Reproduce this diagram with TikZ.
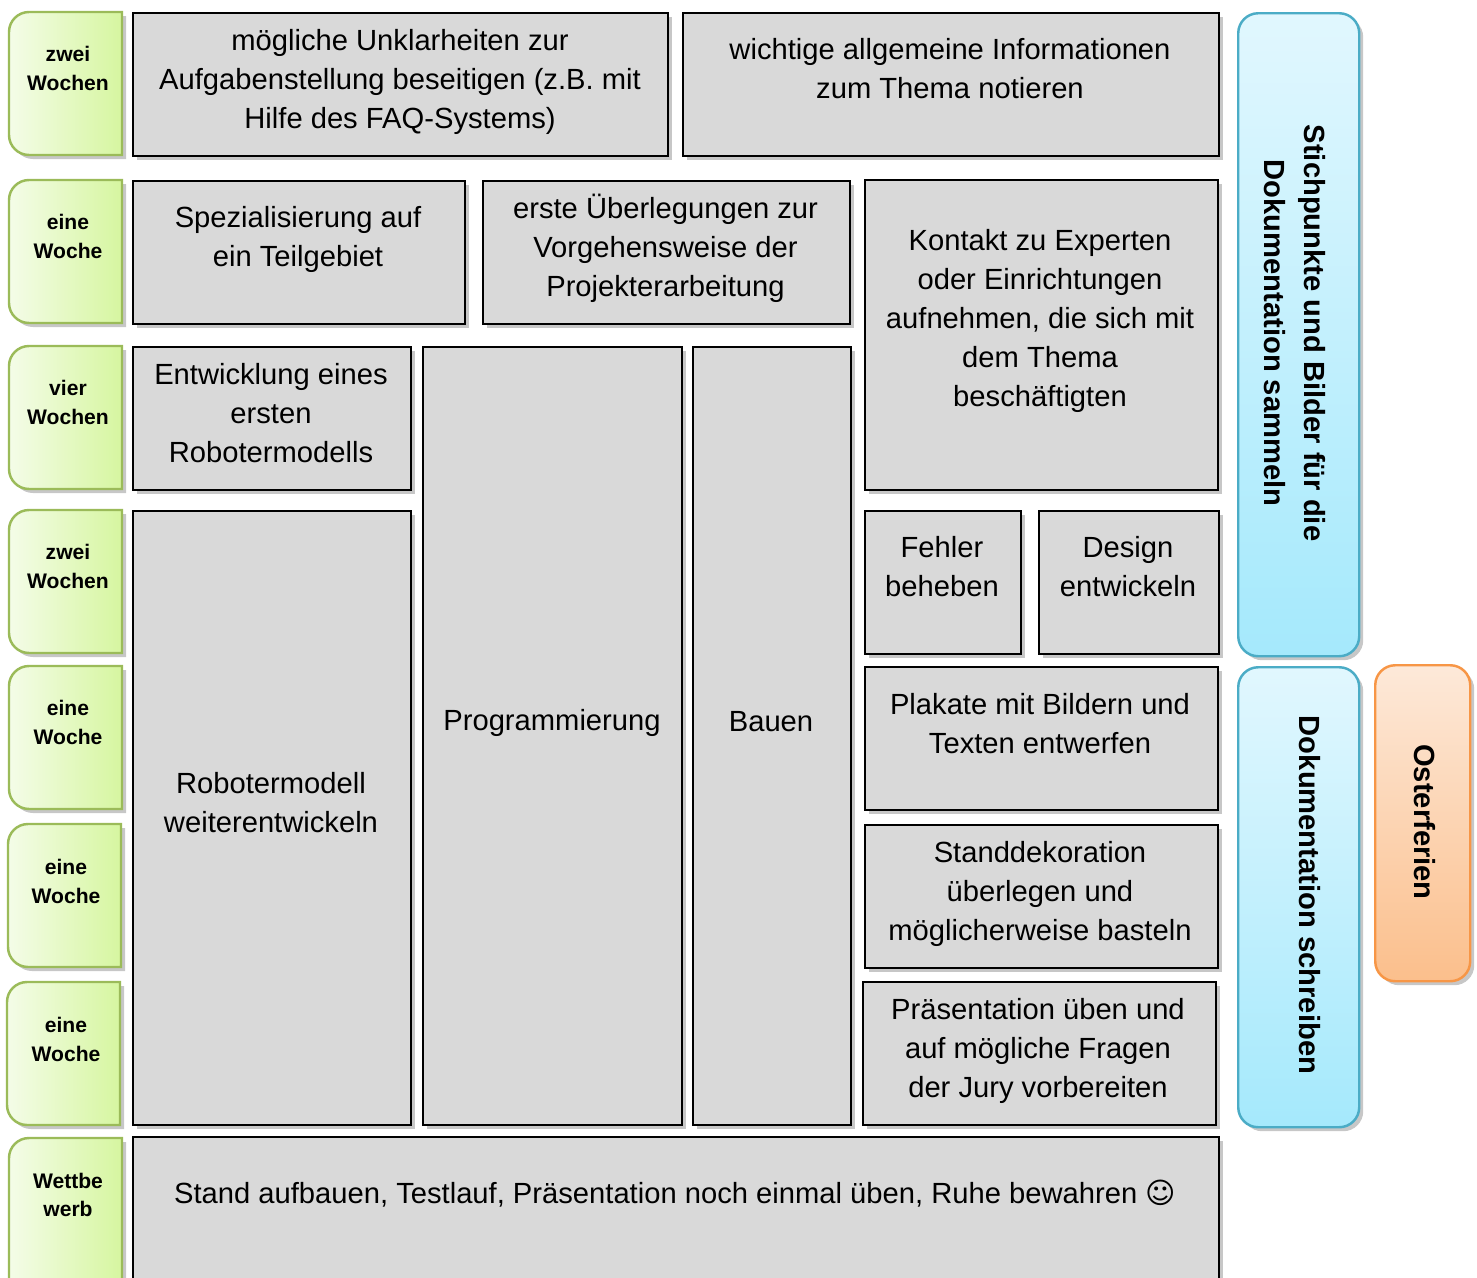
\documentclass[tikz,border=0pt]{standalone}
\usepackage{fontspec}
\setmainfont{Liberation Sans}
\newfontfamily\smileyfont{DejaVu Sans}
\usetikzlibrary{shadows}
\definecolor{boxgrey}{HTML}{D9D9D9}
\definecolor{tableft}{HTML}{F4FCE8}
\definecolor{tabright}{HTML}{D6F6A0}
\definecolor{tabline}{HTML}{9BBB59}
\definecolor{bluetop}{HTML}{E1F7FE}
\definecolor{bluebottom}{HTML}{A5E9FC}
\definecolor{blueline}{HTML}{4BACC6}
\definecolor{orangetop}{HTML}{FDE9D9}
\definecolor{orangebottom}{HTML}{FBBF8C}
\definecolor{orangeline}{HTML}{F79646}
\tikzset{
    softshadow/.style={
        drop shadow={shadow xshift=0.4mm, shadow yshift=-0.4mm, fill=black, opacity=0.22}
    },
    box/.style={
        draw,
        line width=0.7pt,
        fill=boxgrey,
        anchor=north west,
        inner sep=0pt,
        softshadow
    },
    boxtext/.style={
        align=center,
        font=\fontsize{8.3}{11.1}\selectfont
    },
    tab/.style={
        draw=tabline,
        line width=0.7pt,
        left color=tableft,
        right color=tabright,
        softshadow
    },
    tabtext/.style={
        align=center,
        font=\fontsize{6}{8.2}\selectfont\bfseries
    },
    bar/.style={
        rounded corners=2mm,
        line width=0.7pt,
        anchor=north west,
        inner sep=0pt,
        softshadow
    },
    bartext/.style={
        rotate=-90,
        align=center,
        font=\fontsize{8.3}{11.4}\selectfont\bfseries
    }
}
\begin{document}
\begin{tikzpicture}
\clip (0,0) rectangle (14.77,-12.78);

\draw[tab] (1.22,-0.12) -- (0.29,-0.12) arc[start angle=90,end angle=180,radius=0.2] -- (0.09,-1.35) arc[start angle=180,end angle=270,radius=0.2] -- (1.22,-1.55) -- cycle;
\draw[tab] (1.22,-1.80) -- (0.29,-1.80) arc[start angle=90,end angle=180,radius=0.2] -- (0.09,-3.03) arc[start angle=180,end angle=270,radius=0.2] -- (1.22,-3.23) -- cycle;
\draw[tab] (1.22,-3.46) -- (0.29,-3.46) arc[start angle=90,end angle=180,radius=0.2] -- (0.09,-4.69) arc[start angle=180,end angle=270,radius=0.2] -- (1.22,-4.89) -- cycle;
\draw[tab] (1.22,-5.10) -- (0.29,-5.10) arc[start angle=90,end angle=180,radius=0.2] -- (0.09,-6.33) arc[start angle=180,end angle=270,radius=0.2] -- (1.22,-6.53) -- cycle;
\draw[tab] (1.22,-6.66) -- (0.29,-6.66) arc[start angle=90,end angle=180,radius=0.2] -- (0.09,-7.89) arc[start angle=180,end angle=270,radius=0.2] -- (1.22,-8.09) -- cycle;
\draw[tab] (1.21,-8.24) -- (0.28,-8.24) arc[start angle=90,end angle=180,radius=0.2] -- (0.08,-9.47) arc[start angle=180,end angle=270,radius=0.2] -- (1.21,-9.67) -- cycle;
\draw[tab] (1.20,-9.82) -- (0.27,-9.82) arc[start angle=90,end angle=180,radius=0.2] -- (0.07,-11.05) arc[start angle=180,end angle=270,radius=0.2] -- (1.20,-11.25) -- cycle;
\draw[tab] (1.22,-11.38) -- (0.29,-11.38) arc[start angle=90,end angle=180,radius=0.2] -- (0.09,-12.90) arc[start angle=180,end angle=270,radius=0.2] -- (1.22,-13.10) -- cycle;

\node[tabtext] (w1) at (0.68,-0.685) {zwei\\Wochen};
\node[tabtext] (w2) at (0.68,-2.365) {eine\\Woche};
\node[tabtext] (w3) at (0.68,-4.025) {vier\\Wochen};
\node[tabtext] (w4) at (0.68,-5.665) {zwei\\Wochen};
\node[tabtext] (w5) at (0.68,-7.225) {eine\\Woche};
\node[tabtext] (w6) at (0.66,-8.815) {eine\\Woche};
\node[tabtext] (w7) at (0.66,-10.395) {eine\\Woche};
\node[tabtext] (w8) at (0.68,-11.95) {Wettbe\\werb};

\node[box, minimum width=5.35cm, minimum height=1.43cm] (faq) at (1.32,-0.12) {};
\node[box, minimum width=5.36cm, minimum height=1.43cm] (info) at (6.82,-0.12) {};
\node[box, minimum width=3.32cm, minimum height=1.43cm] (spez) at (1.32,-1.80) {};
\node[box, minimum width=3.67cm, minimum height=1.43cm] (plan) at (4.82,-1.80) {};
\node[box, minimum width=3.53cm, minimum height=3.10cm] (kontakt) at (8.64,-1.79) {};
\node[box, minimum width=2.78cm, minimum height=1.43cm] (modell) at (1.32,-3.46) {};
\node[box, minimum width=2.59cm, minimum height=7.78cm] (prog) at (4.22,-3.46) {};
\node[box, minimum width=1.58cm, minimum height=7.78cm] (bauen) at (6.92,-3.46) {};
\node[box, minimum width=2.78cm, minimum height=6.14cm] (weiter) at (1.32,-5.10) {};
\node[box, minimum width=1.56cm, minimum height=1.43cm] (fehler) at (8.64,-5.10) {};
\node[box, minimum width=1.80cm, minimum height=1.43cm] (design) at (10.38,-5.10) {};
\node[box, minimum width=3.53cm, minimum height=1.43cm] (plakate) at (8.64,-6.66) {};
\node[box, minimum width=3.53cm, minimum height=1.43cm] (deko) at (8.64,-8.24) {};
\node[box, minimum width=3.53cm, minimum height=1.43cm] (praes) at (8.62,-9.81) {};
\node[box, minimum width=10.86cm, minimum height=1.60cm] (stand) at (1.32,-11.36) {};

\node[boxtext] (faq-t) at (4.00,-0.82) {mögliche Unklarheiten zur\\Aufgabenstellung beseitigen (z.B. mit\\Hilfe des FAQ-Systems)};
\node[boxtext] (info-t) at (9.50,-0.69) {wichtige allgemeine Informationen\\zum Thema notieren};
\node[boxtext] (spez-t) at (2.98,-2.39) {Spezialisierung auf\\ein Teilgebiet};
\node[boxtext] (plan-t) at (6.655,-2.48) {erste Überlegungen zur\\Vorgehensweise der\\Projekterarbeitung};
\node[boxtext] (kontakt-t) at (10.40,-3.21) {Kontakt zu Experten\\oder Einrichtungen\\aufnehmen, die sich mit\\dem Thema\\beschäftigten};
\node[boxtext] (modell-t) at (2.71,-4.13) {Entwicklung eines\\ersten\\Robotermodells};
\node[boxtext] (prog-t) at (5.52,-7.23) {Programmierung};
\node[boxtext] (bauen-t) at (7.71,-7.22) {Bauen};
\node[boxtext] (weiter-t) at (2.71,-8.03) {Robotermodell\\weiterentwickeln};
\node[boxtext] (fehler-t) at (9.42,-5.67) {Fehler\\beheben};
\node[boxtext] (design-t) at (11.28,-5.67) {Design\\entwickeln};
\node[boxtext] (plakate-t) at (10.40,-7.235) {Plakate mit Bildern und\\Texten entwerfen};
\node[boxtext] (deko-t) at (10.40,-8.94) {Standdekoration\\überlegen und\\möglicherweise basteln};
\node[boxtext] (praes-t) at (10.38,-10.51) {Präsentation üben und\\auf mögliche Fragen\\der Jury vorbereiten};
\node[boxtext] (stand-t) at (6.75,-11.94) {Stand aufbauen, Testlauf, Präsentation noch einmal üben, Ruhe bewahren {\smileyfont ☺}};

\node[bar, draw=blueline, top color=bluetop, bottom color=bluebottom, minimum width=1.21cm, minimum height=6.43cm] (sammeln) at (12.37,-0.12) {};
\node[bar, draw=blueline, top color=bluetop, bottom color=bluebottom, minimum width=1.21cm, minimum height=4.60cm] (schreiben) at (12.37,-6.66) {};
\node[bar, draw=orangeline, top color=orangetop, bottom color=orangebottom, minimum width=0.95cm, minimum height=3.16cm] (ferien) at (13.74,-6.64) {};

\node[bartext] (sammeln-t) at (12.95,-3.33) {Stichpunkte und Bilder für die\\Dokumentation sammeln};
\node[bartext] (schreiben-t) at (13.10,-8.95) {Dokumentation schreiben};
\node[bartext] (ferien-t) at (14.25,-8.22) {Osterferien};
\end{tikzpicture}
\end{document}
